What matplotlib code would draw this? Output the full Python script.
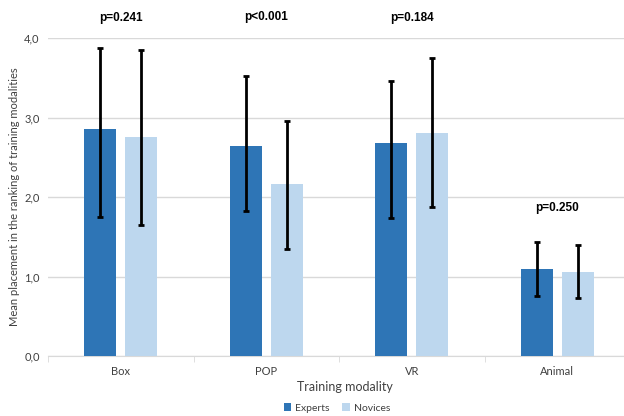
import matplotlib
matplotlib.use('Agg')
from matplotlib import pyplot as plt
import numpy as np

plt.rcParams['font.family'] = ['Lato', 'DejaVu Sans']

categories = ['Box', 'POP', 'VR', 'Animal']
experts_mean = [2.85, 2.64, 2.68, 1.09]
experts_low = [1.75, 1.83, 1.74, 0.76]
experts_high = [3.88, 3.52, 3.46, 1.43]
novices_mean = [2.75, 2.16, 2.81, 1.06]
novices_low = [1.65, 1.34, 1.88, 0.73]
novices_high = [3.85, 2.96, 3.75, 1.40]
p_labels = ['p=0.241', 'p<0.001', 'p=0.184', 'p=0.250']
p_heights = [4.25, 4.26, 4.25, 1.86]
y_ticks = [0.0, 1.0, 2.0, 3.0, 4.0]

c_exp = '#2E75B6'
c_nov = '#BDD7EE'

def yerr(mean, low, high):
    m = np.array(mean)
    return [m - np.array(low), np.array(high) - m]

fig = plt.figure(figsize=(6.24, 4.16), dpi=100)
ax = fig.add_axes([48 / 624, 60 / 416, 582 / 624, 318 / 416])

x = np.arange(len(categories))
w = 0.22
off = 0.141
err_kw = dict(ecolor='black', elinewidth=2, capsize=2.5, capthick=2)
ax.bar(x - off, experts_mean, w, color=c_exp, label='Experts',
       yerr=yerr(experts_mean, experts_low, experts_high), error_kw=err_kw, zorder=3)
ax.bar(x + off, novices_mean, w, color=c_nov, label='Novices',
       yerr=yerr(novices_mean, novices_low, novices_high), error_kw=err_kw, zorder=3)

for xi, lab, h in zip(x, p_labels, p_heights):
    ax.text(xi, h, lab, ha='center', va='center', fontsize=8.5, fontweight='bold',
            family=['Liberation Sans', 'DejaVu Sans'], clip_on=False)

ax.set_xlim(-0.5, 3.5)
ax.set_ylim(0, 4.0)
ax.set_yticks(y_ticks)
ax.set_yticklabels([f'{v:.1f}'.replace('.', ',') for v in y_ticks], fontsize=8, color='#404040')
ax.set_xticks(x)
ax.set_xticklabels(categories, fontsize=8, color='#404040')
ax.set_xticks(np.arange(-0.5, 3.6, 1.0), minor=True)
ax.tick_params(axis='x', which='major', length=0, pad=7)
ax.tick_params(axis='x', which='minor', length=4, color='#D9D9D9')
ax.tick_params(axis='y', length=0, pad=6)
ax.grid(axis='y', color='#D9D9D9', linewidth=1, zorder=0)
for s in ['top', 'right', 'left']:
    ax.spines[s].set_visible(False)
ax.spines['bottom'].set_color('#D9D9D9')

fig.text(345 / 624, 1 - 387 / 416, 'Training modality', ha='center', va='center',
         fontsize=9, color='#404040')
fig.text(15 / 624, 1 - 197 / 416, 'Mean placement in the ranking of training modalities',
         ha='center', va='center', rotation=90, fontsize=8, color='#404040')

fig.legend(loc='center', bbox_to_anchor=(337 / 624, 1 - 408 / 416), ncol=2, frameon=False,
           fontsize=7.5, handlelength=0.7, handleheight=0.7, handletextpad=0.4,
           columnspacing=1.2, labelcolor='#404040')

fig.savefig('out.png', dpi=100)
